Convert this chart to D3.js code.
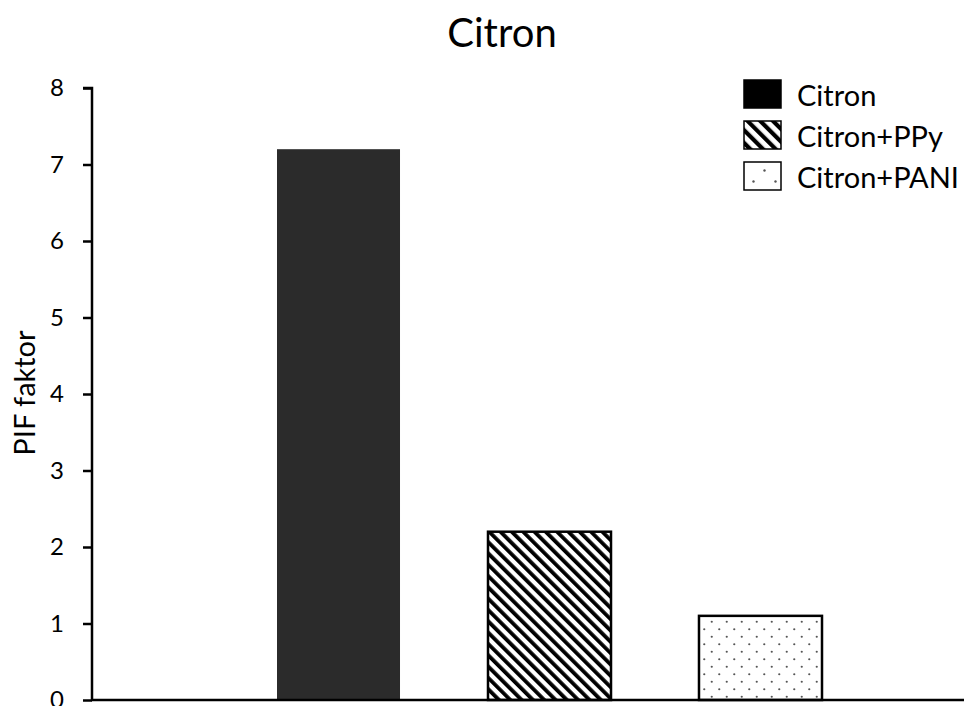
<!DOCTYPE html>
<html><head><meta charset="utf-8">
<script src="https://cdn.jsdelivr.net/npm/d3@7"></script>
<style>body{margin:0;background:#fff;} text{font-family:Lato,"Open Sans",sans-serif;}</style>
</head><body>
<svg id="c" width="964" height="706"></svg>
<script>
const categories = ["Citron", "Citron+PPy", "Citron+PANI"];
const values = [7.2, 2.2, 1.1];
const yTicks = [0, 1, 2, 3, 4, 5, 6, 7, 8];
const title = "Citron";
const yLabel = "PIF faktor";

const svg = d3.select("#c");
const defs = svg.append("defs");
function makeHatch(id, p, w){
  const h = defs.append("pattern").attr("id",id).attr("patternUnits","userSpaceOnUse")
    .attr("width",p).attr("height",p).attr("patternTransform","rotate(-45)");
  h.append("rect").attr("width",p).attr("height",p).attr("fill","#fff");
  h.append("rect").attr("x",0).attr("width",w).attr("height",p).attr("fill","#000");
}
makeHatch("hatch", 8, 3.8);
makeHatch("hatchL", 9, 4.2);
function makeDots(id, s, r, off){
  const d = defs.append("pattern").attr("id",id).attr("patternUnits","userSpaceOnUse")
    .attr("width",s).attr("height",s).attr("x",off).attr("y",off);
  d.append("rect").attr("width",s).attr("height",s).attr("fill","#fff");
  d.append("circle").attr("cx",s/4).attr("cy",s/4).attr("r",r).attr("fill","#555");
  d.append("circle").attr("cx",s*3/4).attr("cy",s*3/4).attr("r",r).attr("fill","#555");
}
makeDots("dots", 15, 1.1, 3);
makeDots("dotsL", 22, 1.2, 0);
const fills = ["#2b2b2b","url(#hatch)","url(#dots)"];
const legFills = ["#000","url(#hatchL)","url(#dotsL)"];
const strokes = ["none","#000","#000"];

const x = d3.scaleBand().domain(categories).range([171.5, 927.5]).paddingInner(0.417).paddingOuter(0.5);
const y = d3.scaleLinear().domain([0, 8]).range([700, 88]);

svg.append("text").attr("x",502).attr("y",47).attr("text-anchor","middle")
  .attr("font-size",40).attr("fill","#000").text(title);

const yAxis = svg.append("g").attr("transform","translate(92,0)")
  .call(d3.axisLeft(y).tickValues(yTicks).tickSize(9).tickPadding(19).tickSizeOuter(0));
yAxis.select(".domain").attr("stroke","#000").attr("stroke-width",2.5).attr("d","M-9,88H0V700");
yAxis.selectAll(".tick line").attr("stroke","#000").attr("stroke-width",2.5);
yAxis.selectAll(".tick text").attr("font-size",24).attr("fill","#000").attr("font-family","Lato,'Open Sans',sans-serif");

svg.append("text").attr("transform","translate(35,393) rotate(-90)").attr("text-anchor","middle")
  .attr("font-size",29).attr("fill","#000").text(yLabel);

svg.selectAll("rect.bar").data(values).join("rect").attr("class","bar")
  .attr("x",(d,i)=>x(categories[i])).attr("width",x.bandwidth())
  .attr("y",d=>y(d)).attr("height",d=>y(0)-y(d))
  .attr("fill",(d,i)=>fills[i]).attr("stroke",(d,i)=>strokes[i]).attr("stroke-width",2.5);

svg.append("line").attr("x1",91).attr("x2",964).attr("y1",700).attr("y2",700)
  .attr("stroke","#000").attr("stroke-width",2.5);

const leg = svg.append("g");
categories.forEach((c,i)=>{
  const gy = 80 + i*41;
  leg.append("rect").attr("x",744).attr("y",gy).attr("width",37).attr("height",28)
    .attr("fill",legFills[i]).attr("stroke","#000").attr("stroke-width",1.5);
  leg.append("text").attr("x",797).attr("y",gy+26).attr("font-size",29).attr("fill","#000").text(c);
});
</script>
</body></html>
